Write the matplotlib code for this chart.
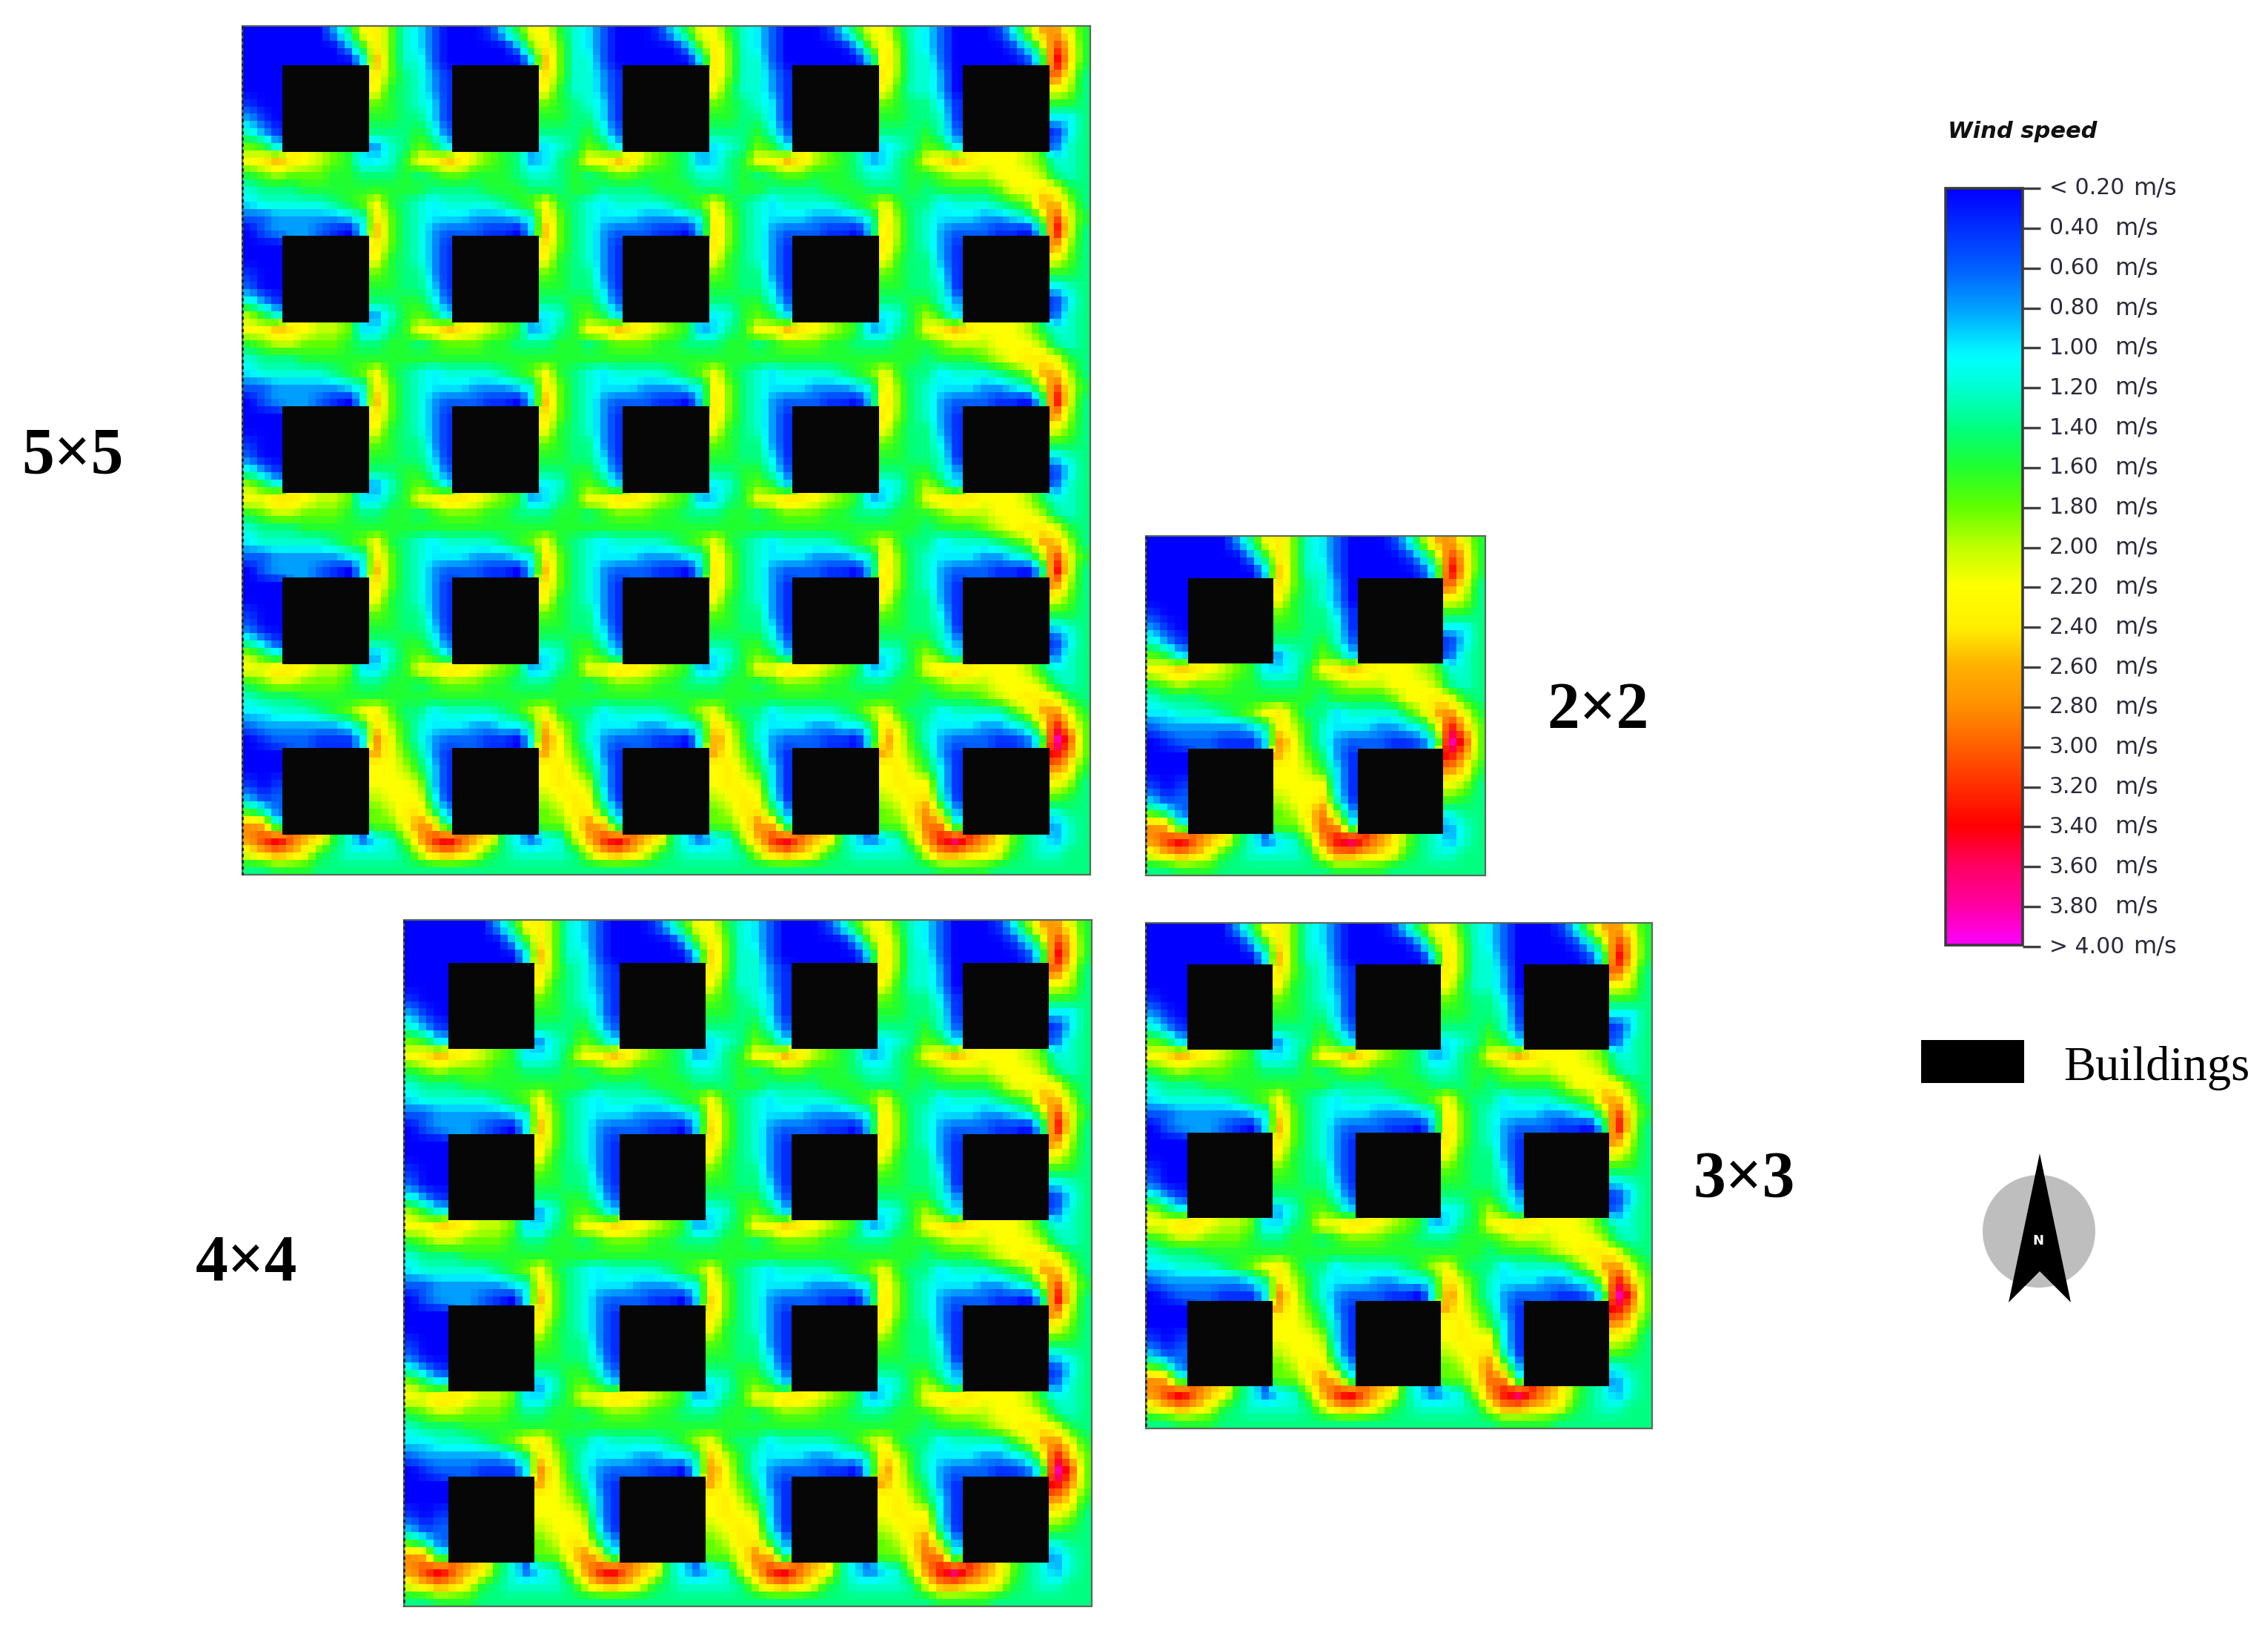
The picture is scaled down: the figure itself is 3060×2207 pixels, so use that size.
import numpy as np
import matplotlib
matplotlib.use("Agg")
import matplotlib.pyplot as plt
from matplotlib.colors import LinearSegmentedColormap
from matplotlib.patches import Rectangle, Ellipse, Polygon

# Wind speed, per building tile: one character per node,
# level k (base 21) means 0.2 + 0.2 k m/s; '#' is a building.
TOP_LEFT = ["00000036ab85", "000000037b85", "000000004c85", "000######b86", "000######a76", "100######876",
            "310######776", "531######666", "874######356", "abcba9874457", "789888776667", "566677777777"]
TOP_MID = ["420001 47aa75".replace(" ", ""), "420000038b85", "520000004c85", "531######b85", "531######a75", "541######876",
           "641######776", "752######666", "874######456", "aacb98763467", "678877765567", "766667776667"]
TOP_RIGHT = ["42000148cda7", "42000014 8fc7".replace(" ", ""), "520000015hc7", "530######ea6", "530######a96", "641######776",
             "651######446", "752######146", "874######256", "abcbaaa98556", "78999aaa9656", "67777 8aaba76".replace(" ", "")]
MID_LEFT = ["455555678a76", "223333345b86", "023332104c86", "000######b86", "000######a76", "100######876",
            "200######776", "531######667", "975######357", "aacba9984467", "789988876677", "566677777777"]
MID_MID = ["545555678a76", "544433345b86", "532221104c86", "531######b86", "531######a76", "631######876",
           "641######776", "752######667", "874######457", "aacba9873467", "678887766677", "777777777777"]
MID_RIGHT = ["64555678cc96", "544433458fa7", "532221104ha6", "531######d96", "631######a86", "641######776",
             "651######456", "753######146", "974######256", "abcbaaa97556", "78999aaa9656", "677789abba76"]
BOT_LEFT = ["44555678ab86", "233333346b97", "012221114da7", "000######ca8", "000######aa9", "101######aaa",
            "312######9aa", "752######89b", "dc5######88a", "dfhecb752458", "acdca7655556", "667776666666"]
BOT_MID = ["645555679a76", "544433446c97", "532221105da7", "631######ca8", "741######ab9", "941######aba",
           "a51######9ab", "b73######89b", "dc5######88a", "cfhecb642459", "9cdca7655556", "666666666666"]
BOT_RIGHT = ["64555579cda7", "544433459gc8", "532221125jf8", "631######gd8", "741######db7", "a41######a96",
             "b51######876", "d83######566", "ed5######356", "dgifdb865356", "addcba765566", "677776666666"]

PANELS = {"5×5": 5, "4×4": 4, "3×3": 3, "2×2": 2}
COLOR_LEVELS = [0.2, 0.4, 0.6, 0.8, 1.0, 1.05, 1.2, 1.4, 1.6, 1.8, 2.0, 2.2, 2.4, 2.6, 2.8, 3.0, 3.2, 3.4, 3.6, 3.8, 4.0]
COLOR_VALUES = ["#0000ff", "#0030ff", "#0060ff", "#00a0ff", "#00f0ff", "#00ffff", "#00ffd0", "#00ff80", "#20ff30",
                "#60ff00", "#c0ff00", "#ffff00", "#fff000", "#ffb000", "#ff9000", "#ff6000", "#ff3000", "#ff0000",
                "#ff0060", "#ff00a0", "#ff00ff"]
TICK_LABELS = ["< 0.20 m/s", "0.40  m/s", "0.60  m/s", "0.80  m/s", "1.00  m/s", "1.20  m/s", "1.40  m/s", "1.60  m/s",
               "1.80  m/s", "2.00  m/s", "2.20  m/s", "2.40  m/s", "2.60  m/s", "2.80  m/s", "3.00  m/s", "3.20  m/s",
               "3.40  m/s", "3.60  m/s", "3.80  m/s", "> 4.00 m/s"]

# panel extents in figure pixels: left, right, top, bottom
EXTENTS = {"5×5": (327, 1471, 35, 1180), "4×4": (545, 1473, 1241, 2167),
           "3×3": (1546, 2229, 1245, 1927), "2×2": (1546, 2004, 723, 1181)}
# first building left, first building top, pitch x, pitch y, building size
BUILDINGS = {"5×5": (381, 88, 229.4, 230.2, 117), "4×4": (605, 1299, 231.5, 231.0, 116),
             "3×3": (1602, 1301, 227.2, 227.2, 115), "2×2": (1603, 780, 229.5, 230.0, 115)}
LABEL_POS = {"5×5": (98, 616), "4×4": (332, 1705), "3×3": (2353, 1592), "2×2": (2156, 960)}


def decode(rows):
    return np.array([[np.nan if ch == "#" else 0.2 + 0.2 * int(ch, 21) for ch in r] for r in rows])


def tile_row(left, mid, right, n):
    return np.hstack([decode(left)] + [decode(mid)] * (n - 2) + [decode(right)])


def field(n):
    top = tile_row(TOP_LEFT, TOP_MID, TOP_RIGHT, n)
    middle = tile_row(MID_LEFT, MID_MID, MID_RIGHT, n)
    bottom = tile_row(BOT_LEFT, BOT_MID, BOT_RIGHT, n)
    return np.vstack([top] + [middle] * (n - 2) + [bottom])


def refine(a, cells):
    """Resample node values to the cell grid of the reference, ignoring building nodes."""
    m = a.shape[0]
    src = (np.arange(m) + 0.5) / m
    dst = (np.arange(cells) + 0.5) / cells
    w = np.isfinite(a).astype(float)
    v = np.nan_to_num(a)
    for axis in (0, 1):
        v = np.apply_along_axis(lambda s: np.interp(dst, src, s), axis, v)
        w = np.apply_along_axis(lambda s: np.interp(dst, src, s), axis, w)
    return v / np.maximum(w, 1e-6)


cmap = LinearSegmentedColormap.from_list(
    "wind", [((l - 0.2) / 3.8, c) for l, c in zip(COLOR_LEVELS, COLOR_VALUES)], N=512)

fig = plt.figure(figsize=(30.6, 22.07), dpi=100)
ax = fig.add_axes([0, 0, 1, 1])
ax.axis("off")

serif = "Liberation Serif"
for name, n in PANELS.items():
    x0, x1, y0, y1 = EXTENTS[name]
    grid = refine(field(n), 23 * n + 1)
    ax.imshow(grid, extent=(x0, x1, y1, y0), cmap=cmap, vmin=0.2, vmax=4.0, aspect="auto",
              interpolation="nearest", zorder=1)
    bx, by, px, py, size = BUILDINGS[name]
    for i in range(n):
        for j in range(n):
            ax.add_patch(Rectangle((bx + i * px, by + j * py), size, size, fc="#060606", ec="none", zorder=2))
    ax.add_patch(Rectangle((x0, y0), x1 - x0, y1 - y0, fc="none", ec="#5a6a5a", lw=1.6, zorder=3))
    ax.plot([x0, x0], [y0, y1], color="#222222", lw=2, ls=(0, (1.5, 1.5)), zorder=4)
    lx, ly = LABEL_POS[name]
    ax.text(lx, ly, name, family=serif, weight="bold", fontsize=63, ha="center", va="center", color="black")

# colour bar
bar_x0, bar_x1, bar_y0, bar_y1 = 2625, 2729, 254, 1275
ramp = np.linspace(0.2, 4.0, 512).reshape(-1, 1)
ax.imshow(ramp, extent=(bar_x0, bar_x1, bar_y1, bar_y0), cmap=cmap, vmin=0.2, vmax=4.0, aspect="auto", zorder=1)
ax.add_patch(Rectangle((bar_x0, bar_y0), bar_x1 - bar_x0, bar_y1 - bar_y0, fc="none", ec="#3a3a3a", lw=2.6, zorder=3))
tick_ys = np.linspace(bar_y0, bar_y1 + 2, len(TICK_LABELS))
for y, lab in zip(tick_ys, TICK_LABELS):
    ax.plot([bar_x1, 2753], [y, y], color="#404040", lw=2.4, solid_capstyle="butt", zorder=3)
    value, unit = lab.rsplit(None, 1)
    ax.text(2765, y, value, family="DejaVu Sans", fontsize=21.5, ha="left", va="center", color="#2a2a3a")
    ax.text(2878 if value[0] in "<>" else 2853, y, unit, family="DejaVu Sans", fontsize=23, ha="left",
            va="center", color="#2a2a3a")
ax.text(2628, 178, "Wind speed", family="DejaVu Sans", weight="bold", style="italic", fontsize=22,
        ha="left", va="center", color="#111111")

# buildings legend
ax.add_patch(Rectangle((2592, 1403), 139, 58, fc="black", ec="none"))
ax.text(2784, 1441, "Buildings", family=serif, fontsize=46.5, ha="left", va="center", color="black")

# north arrow
ax.add_patch(Ellipse((2751, 1661), 152, 152, fc="#bebebe", ec="none", zorder=2))
ax.add_patch(Polygon([(2752, 1556), (2710, 1757), (2752, 1715), (2794, 1757)], closed=True, fc="black", ec="none", zorder=3))
ax.text(2750, 1674, "N", family="DejaVu Sans", weight="bold", fontsize=13, ha="center", va="center", color="white", zorder=4)

ax.set_xlim(0, 3060)
ax.set_ylim(2207, 0)
fig.savefig("out.png", dpi=100, facecolor="white")
